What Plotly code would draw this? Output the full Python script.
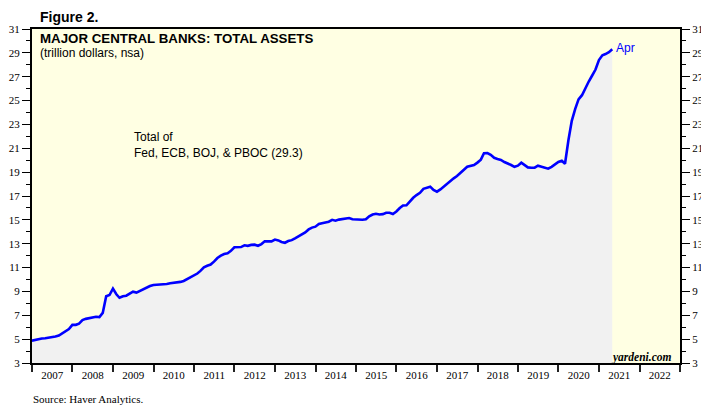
import pandas as pd
import plotly.graph_objects as go

# Month-end observations, Dec 2006 .. Apr 2021 (trillion dollars)
months = pd.date_range("2006-12-01", "2021-04-01", freq="MS")
total_assets = [
    4.87, 4.95, 5.00, 5.05, 5.08, 5.11, 5.15, 5.22, 5.30, 5.48, 5.65, 5.85,
    6.20, 6.20, 6.30, 6.60, 6.70, 6.78, 6.80, 6.88, 6.85, 7.20, 8.60, 8.70,
    9.23, 8.76, 8.47, 8.60, 8.64, 8.85, 8.98, 8.90, 9.05, 9.18, 9.30, 9.45,
    9.54, 9.55, 9.56, 9.57, 9.62, 9.68, 9.70, 9.72, 9.80, 9.88, 10.02, 10.18,
    10.32, 10.50, 10.72, 11.02, 11.15, 11.25, 11.50, 11.80, 12.00, 12.14, 12.20, 12.40,
    12.70, 12.70, 12.72, 12.87, 12.82, 12.90, 12.92, 12.83, 12.97, 13.20, 13.23, 13.20,
    13.35, 13.28, 13.15, 13.08, 13.22, 13.30, 13.45, 13.62, 13.80, 13.95, 14.20, 14.35,
    14.43, 14.65, 14.72, 14.76, 14.85, 15.00, 14.93, 15.02, 15.06, 15.07, 15.15, 15.05,
    15.03, 15.01, 15.01, 15.05, 15.30, 15.45, 15.51, 15.45, 15.48, 15.60, 15.60, 15.49,
    15.70, 15.99, 16.20, 16.22, 16.55, 16.85, 17.08, 17.27, 17.60, 17.72, 17.78, 17.50,
    17.36, 17.55, 17.78, 18.00, 18.28, 18.48, 18.67, 18.90, 19.20, 19.45, 19.54, 19.60,
    19.80, 20.05, 20.58, 20.60, 20.45, 20.20, 20.10, 20.02, 19.85, 19.75, 19.60, 19.45,
    19.54, 19.79, 19.60, 19.40, 19.37, 19.38, 19.54, 19.45, 19.35, 19.29, 19.45, 19.65,
    19.85, 19.96, 19.70, 21.70, 23.30, 24.30, 25.10, 25.45, 26.10, 26.60, 27.10, 27.60,
    28.40, 28.80, 28.90, 29.05, 29.30,
]
month_end = months + pd.offsets.MonthEnd(0)

y_ticks = list(range(3, 32, 2))
title = "MAJOR CENTRAL BANKS: TOTAL ASSETS"
subtitle = "(trillion dollars, nsa)"
note = "Total of<br>Fed, ECB, BOJ, & PBOC (29.3)"
last_label = "Apr"

# page body has an 8px margin, so the figure is drawn offset by 8px
OFF = 8
W, H = 709 - OFF, 413 - OFF
L, R, T, B = 32 - OFF, 29, 29 - OFF, 50
pw, ph = W - L - R, H - T - B


def px(x):  # window pixel -> paper coordinate
    return (x - OFF - L) / pw


def py(y):
    return (H - B - (y - OFF)) / ph


fig = go.Figure()
fig.add_trace(go.Scatter(
    x=month_end, y=total_assets, mode="lines",
    line=dict(color="#0000FF", width=2.6),
    fill="tozeroy", fillcolor="#F1F1F1",
    hoverinfo="skip", showlegend=False,
))
# invisible trace for right axis
fig.add_trace(go.Scatter(x=[month_end[0]], y=[total_assets[0]], yaxis="y2",
                         mode="markers", marker=dict(opacity=0),
                         hoverinfo="skip", showlegend=False))

tickfont = dict(family="Liberation Serif", size=11, color="black")
yax = dict(
    range=[3, 31], tickmode="array", tickvals=y_ticks,
    ticks="outside", ticklen=8, tickwidth=1.3, tickcolor="black",
    minor=dict(dtick=1, tick0=3, ticks="outside", ticklen=4, tickwidth=1.3, tickcolor="black"),
    showgrid=False, zeroline=False, showline=True, linecolor="black", linewidth=2,
    tickfont=tickfont, automargin=False, fixedrange=True,
)

fig.update_layout(
    width=W, height=H,
    margin=dict(l=L, r=R, t=T, b=B, pad=0),
    paper_bgcolor="white", plot_bgcolor="#FFFFE3",
    xaxis=dict(
        type="date", range=["2007-01-01", "2023-01-01"],
        tick0="2007-01-01", dtick="M12", tickformat="%Y", ticklabelmode="period",
        ticks="outside", ticklen=7, tickwidth=2, tickcolor="#222222",
        ticklabelstandoff=-6,
        showgrid=False, zeroline=False, showline=True, linecolor="black", linewidth=2,
        mirror=True, tickfont=tickfont, automargin=False,
    ),
    yaxis=dict(side="left", **yax),
    yaxis2=dict(side="right", overlaying="y", **yax),
    showlegend=False,
)

ann = [
    dict(text="<b>Figure 2.</b>", x=px(38), y=py(17), xanchor="left", yanchor="middle",
         font=dict(family="Liberation Sans", size=14, color="black")),
    dict(text="<b>" + title + "</b>", x=px(38), y=py(38), xanchor="left", yanchor="middle",
         font=dict(family="Liberation Sans", size=13.3, color="black")),
    dict(text=subtitle, x=px(38), y=py(53), xanchor="left", yanchor="middle",
         font=dict(family="Liberation Sans", size=12, color="black")),
    dict(text=note, x=px(132), y=py(145), xanchor="left", yanchor="middle", align="left",
         font=dict(family="Liberation Sans", size=12, color="black")),
    dict(text="<b><i>yardeni.com</i></b>", x=px(674), y=py(357), xanchor="right", yanchor="middle",
         font=dict(family="Liberation Serif", size=11.5, color="black")),
    dict(text="Source: Haver Analytics.", x=px(31), y=py(399), xanchor="left", yanchor="middle",
         font=dict(family="Liberation Serif", size=11, color="black")),
]
for a in ann:
    a.update(xref="paper", yref="paper", showarrow=False)
    fig.add_annotation(**a)

fig.add_annotation(x=month_end[-1], y=total_assets[-1], xref="x", yref="y",
                   text=last_label, showarrow=False, xanchor="left", yanchor="middle",
                   xshift=2, yshift=1,
                   font=dict(family="Liberation Sans", size=12, color="#0000FF"))

fig.write_html("out.html")
